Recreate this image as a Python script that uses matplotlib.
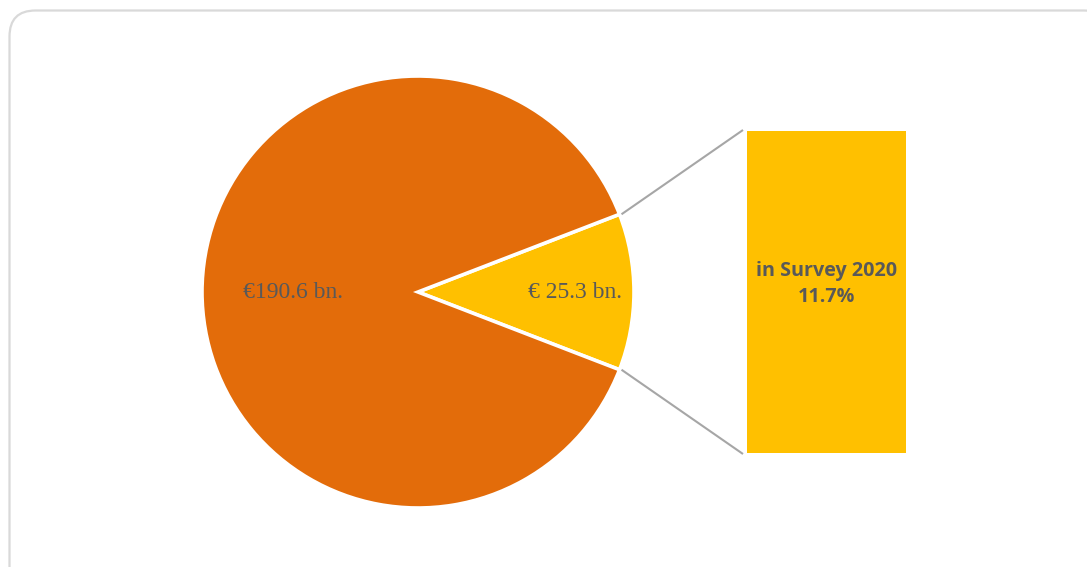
import numpy as np
import matplotlib
matplotlib.use("Agg")
import matplotlib.pyplot as plt
from matplotlib.patches import Rectangle, FancyBboxPatch

# data
values = [25.3, 190.6]
labels = ["€ 25.3 bn.", "€190.6 bn."]
colors = ["#FFC000", "#E36C0A"]
box_title = "in Survey 2020"

W, H = 1087, 567
fig = plt.figure(figsize=(W / 100, H / 100), dpi=100)
ax = fig.add_axes([0, 0, 1, 1])

# rounded frame
frame = FancyBboxPatch((9.5, 10.5), 1100, 600, boxstyle="round,pad=0,rounding_size=26",
                       fc="white", ec="#D9D9D9", lw=1.6, zorder=0)
ax.add_patch(frame)

cx, cy, r = 418, 292, 216
share = values[0] / sum(values)
start = -share * 180
wedges, _ = ax.pie(values, colors=colors, startangle=start, center=(cx, cy), radius=r,
                   counterclock=True, wedgeprops=dict(ec="white", lw=2.6), frame=True)
ax.set_xlim(0, W)
ax.set_ylim(H, 0)
ax.set_aspect("equal")
ax.axis("off")

# labels (y axis is flipped, so angles mirror)
dists = [0.727, 0.58]
for w, lab, d in zip(wedges, labels, dists):
    ang = np.deg2rad((w.theta1 + w.theta2) / 2)
    ax.text(cx + d * r * np.cos(ang), cy + d * r * np.sin(ang), lab,
            ha="center", va="center", fontsize=17, family="Liberation Serif",
            color="#595959")

# detail box
bx0, by0, bx1, by1 = 747, 131, 906, 453
ax.add_patch(Rectangle((bx0, by0), bx1 - bx0, by1 - by0, fc=colors[0], ec="none"))
ax.text((bx0 + bx1) / 2, 284, f"{box_title}\n{share * 100:.1f}%", ha="center", va="center",
        fontsize=14.2, family="Open Sans", fontweight="bold", color="#595959", linespacing=1.4)

# connector lines from wedge edge to box
w = wedges[0]
for th, ye in [(w.theta1, by0 - 1), (w.theta2, by1 + 1)]:
    a = np.deg2rad(th)
    ax.plot([cx + r * np.cos(a) + 2, bx0 - 4], [cy + r * np.sin(a), ye],
            color="#A6A6A6", lw=1.5, solid_capstyle="butt")

fig.savefig("out.png", dpi=100)
